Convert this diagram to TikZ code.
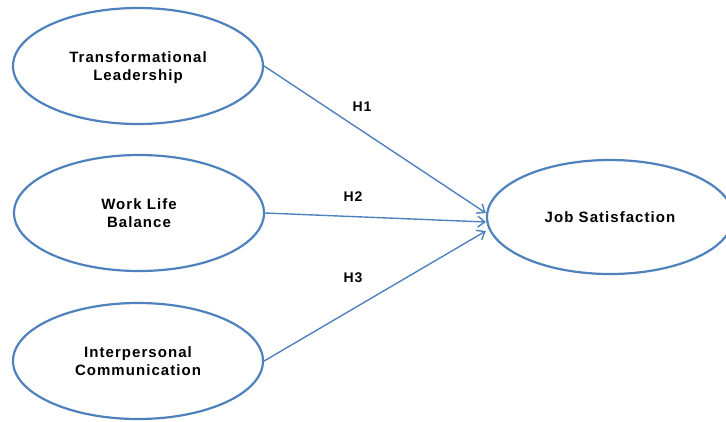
\documentclass[tikz,border=0pt]{standalone}
\usepackage{fontspec}
\setmainfont{Liberation Sans}[LetterSpace=7]
\usetikzlibrary{shapes.geometric,arrows.meta}
\definecolor{lineblue}{RGB}{79,129,189}
\begin{document}
\begin{tikzpicture}[x=1pt,y=-1pt,
  latent/.style={ellipse, draw=lineblue, line width=2.2pt, minimum width=250pt, minimum height=116pt,
    inner sep=0pt, align=center, text depth=0pt, font=\fontsize{15}{18}\selectfont\bfseries},
  conn/.style={draw=lineblue, line width=1.4pt, -{Straight Barb[length=7pt,width=11pt]}},
  hlab/.style={inner sep=0pt, font=\fontsize{14}{16}\selectfont\bfseries}]
\useasboundingbox (0,0) rectangle (726,421);
\node[latent] (tl) at (138,66) {Transformational\\Leadership};
\node[latent] (wlb) at (139,213) {Work Life\\Balance};
\node[latent] (ic) at (138,361) {Interpersonal\\Communication};
\node[latent, minimum width=246pt, minimum height=114pt] (js) at (610,217) {Job Satisfaction};
\coordinate (t1) at ([yshift=4pt]js.west);
\coordinate (t2) at ([yshift=-5pt]js.west);
\coordinate (t3) at ([yshift=-14pt]js.west);
\draw[conn] (tl.east) -- (t1);
\draw[conn] (wlb.east) -- (t2);
\draw[conn] (ic.east) -- (t3);
\node[hlab] (h1) at (362,107) {H1};
\node[hlab] (h2) at (353,197) {H2};
\node[hlab] (h3) at (353,278) {H3};
\end{tikzpicture}
\end{document}
